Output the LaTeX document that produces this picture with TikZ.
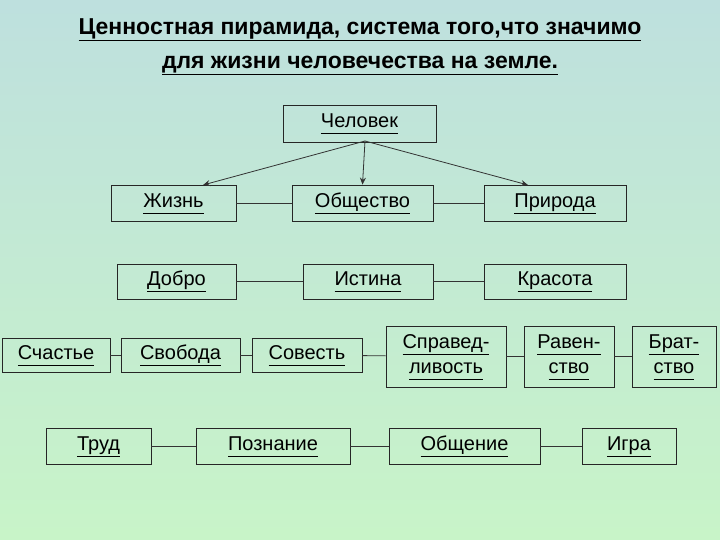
\documentclass[tikz,border=0pt]{standalone}
\usepackage{fontspec}
\setmainfont{Liberation Sans}
\usetikzlibrary{arrows.meta}
\newcommand{\ul}[1]{\underline{#1\vphantom{Дудб}}}
\newcommand{\ulb}[1]{\underline{#1\vphantom{Дудб}}\vphantom{\"{Й}}}
\tikzset{bx/.style={draw=black!85, line width=0.8pt, align=center, inner sep=0pt, font=\fontsize{20}{22}\selectfont},
 ln/.style={draw=black!80, line width=0.8pt},
 ar/.style={ln,-{Stealth[length=7pt,width=6pt]}}}
\newcommand{\bxnode}[6]{\node[bx, minimum width=#4-#2, minimum height=#5-#3] (#1) at ({(#2+#4)/2},{(#3+#5)/2}) {#6};}
\begin{document}
\begin{tikzpicture}[x=1pt,y=-1pt]
\shade[top color={rgb,255:red,190;green,224;blue,222}, bottom color={rgb,255:red,200;green,244;blue,200}] (0,0) rectangle (720,540);
\useasboundingbox (0,0) rectangle (720,540);
\node[align=center, font=\bfseries\fontsize{23}{34}\selectfont] (title) at (360,46) {\ul{Ценностная пирамида, система того,что значимо}\\\ul{для жизни человечества на земле.}};
\bxnode{chel}{283}{105}{436}{142}{\ul{Человек}}
\bxnode{zh}{111}{185}{236}{221}{\ul{Жизнь}}
\bxnode{ob}{292}{185}{433}{221}{\ul{Общество}}
\bxnode{pr}{484}{185}{626}{221}{\ul{Природа}}
\bxnode{dob}{117}{264}{236}{299}{\ul{Добро}}
\bxnode{ist}{303}{264}{433}{299}{\ul{Истина}}
\bxnode{kr}{484}{264}{626}{299}{\ul{Красота}}
\bxnode{sch}{2}{338}{110}{372}{\ul{Счастье}}
\bxnode{svo}{121}{338}{240}{372}{\ul{Свобода}}
\bxnode{sov}{252}{338}{362}{372}{\ul{Совесть}}
\bxnode{spr}{386}{326}{506}{387}{\ul{Справед-}\\[3pt]\ul{ливость}}
\bxnode{rav}{524}{326}{614}{387}{\ul{Равен-}\\[3pt]\ul{ство}}
\bxnode{bra}{632}{326}{716}{387}{\ul{Брат-}\\[3pt]\ul{ство}}
\bxnode{tr}{46}{428}{151}{464}{\ul{Труд}}
\bxnode{poz}{196}{428}{350}{464}{\ul{Познание}}
\bxnode{obsh}{389}{428}{540}{464}{\ul{Общение}}
\bxnode{ig}{582}{428}{676}{464}{\ul{Игра}}
\coordinate (c0) at (365,141);
\draw[ar] (c0) -- (203,185);
\draw[ar] (c0) -- (ob.north);
\draw[ar] (c0) -- (528,185);
\draw[ln] (zh) -- (ob); \draw[ln] (ob) -- (pr);
\draw[ln] (dob) -- (ist); \draw[ln] (ist) -- (kr);
\draw[ln] (sch) -- (svo); \draw[ln] (svo) -- (sov); \draw[ln] (sov) -- (spr);
\draw[ln] (spr) -- (rav); \draw[ln] (rav) -- (bra);
\draw[ln] (tr) -- (poz); \draw[ln] (poz) -- (obsh); \draw[ln] (obsh) -- (ig);
\end{tikzpicture}
\end{document}
